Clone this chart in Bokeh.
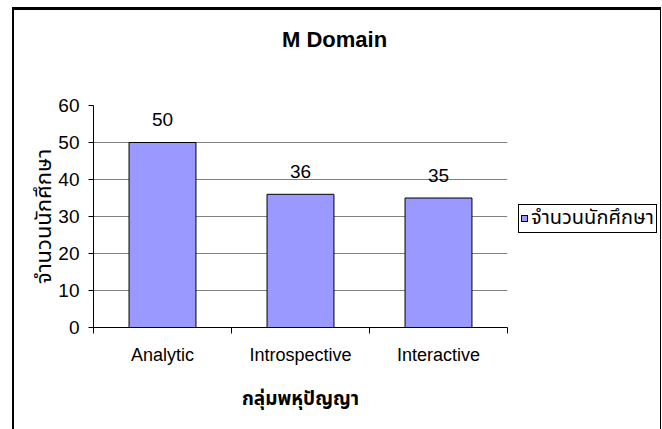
from bokeh.plotting import figure
from bokeh.models import Range1d, FixedTicker, ColumnDataSource, Div
from bokeh.layouts import column, row
from bokeh.core.properties import value
from bokeh.embed import file_html
from bokeh.resources import INLINE

categories = ["Analytic", "Introspective", "Interactive"]
counts = [50, 36, 35]
y_ticks = [0, 10, 20, 30, 40, 50, 60]
chart_title = "M Domain"
x_axis_label = "กลุ่มพหุปัญญา"
y_axis_label = "จำนวนนักศึกษา"
series_name = "จำนวนนักศึกษา"

BAR_COLOR = "#9999FF"
LAT = "Liberation Sans"
THAI = "Noto Sans Thai, Noto Sans, sans-serif"

# layout constants (pixels)
TOTAL_W, TOTAL_H = 646, 419
TITLE_H = 60
LEGEND_W = 142
PLOT_W = TOTAL_W - LEGEND_W
PLOT_H = TOTAL_H - TITLE_H

n = len(categories)
pos = [i + 0.5 for i in range(n)]
src = ColumnDataSource(dict(x=pos, top=counts, lab=[str(c) for c in counts]))

p = figure(width=PLOT_W, height=PLOT_H, output_backend="svg", toolbar_location=None,
           x_range=Range1d(0, n), y_range=Range1d(0, 60),
           min_border_left=79, min_border_right=11, min_border_top=95 - TITLE_H,
           min_border_bottom=102, margin=0)

p.outline_line_color = None
p.xgrid.grid_line_color = None
p.ygrid.grid_line_color = "#808080"
p.ygrid.grid_line_width = 1
p.ygrid.ticker = FixedTicker(ticks=y_ticks)

bars = p.vbar(x="x", top="top", width=0.485, source=src, fill_color=BAR_COLOR,
              line_color="black", line_width=1)
p.text(x="x", y="top", text="lab", source=src, text_align="center",
       text_baseline="middle", y_offset=-23, text_font=value(LAT),
       text_font_size="19px", text_color="black")

# x axis
xa = p.xaxis[0]
xa.ticker = FixedTicker(ticks=pos, minor_ticks=list(range(n + 1)))
xa.major_label_overrides = {p_: c for p_, c in zip(pos, categories)}
xa.major_tick_out = 0
xa.major_tick_in = 0
xa.minor_tick_out = 6
xa.minor_tick_in = 0
xa.minor_tick_line_color = "black"
xa.axis_line_color = "black"
xa.major_label_standoff = 11
xa.major_label_text_font = LAT
xa.major_label_text_font_size = "18px"
xa.major_label_text_color = "black"
xa.axis_label = x_axis_label
xa.axis_label_text_font = THAI
xa.axis_label_text_font_size = "19px"
xa.axis_label_text_font_style = "bold"
xa.axis_label_text_color = "black"
xa.axis_label_standoff = 17

ya = p.yaxis[0]
ya.ticker = FixedTicker(ticks=y_ticks)
ya.minor_tick_line_color = None
ya.major_tick_out = 5
ya.major_tick_in = 0
ya.major_tick_line_color = "black"
ya.axis_line_color = "black"
ya.major_label_standoff = 9
ya.major_label_text_font = LAT
ya.major_label_text_font_size = "19px"
ya.major_label_text_color = "black"
ya.axis_label = y_axis_label
ya.axis_label_text_font = THAI
ya.axis_label_text_font_size = "22px"
ya.axis_label_text_font_style = "normal"
ya.axis_label_text_color = "black"
ya.axis_label_standoff = -6

title_div = Div(
    text=(f'<div style="padding-top:19px;padding-left:268px;font-family:\'Liberation Sans\';'
          f'font-weight:bold;font-size:22px;line-height:22px;color:black;white-space:nowrap">'
          f'{chart_title}</div>'),
    width=TOTAL_W, height=TITLE_H, margin=0)

legend_div = Div(
    text=(f'<div style="padding-top:134px">'
          f'<div style="box-sizing:border-box;width:139px;height:29px;border:1px solid black;'
          f'display:flex;align-items:center;padding-left:2px;font-family:\'Noto Sans Thai\',sans-serif;'
          f'font-size:20px;color:black;white-space:nowrap;background:white">'
          f'<span style="display:inline-block;width:7px;height:7px;border:1px solid black;'
          f'background:{BAR_COLOR};margin-right:3px;flex:none"></span>{series_name}</div></div>'),
    width=LEGEND_W, height=PLOT_H, margin=0)

lay = column(title_div, row(p, legend_div, margin=0), margin=0,
             styles={"border-top": "3px solid black", "border-left": "2px solid black",
                     "border-right": "1px solid black", "margin-left": "12px",
                     "margin-top": "7px"})

open("out.html", "w").write(file_html(lay, INLINE))
